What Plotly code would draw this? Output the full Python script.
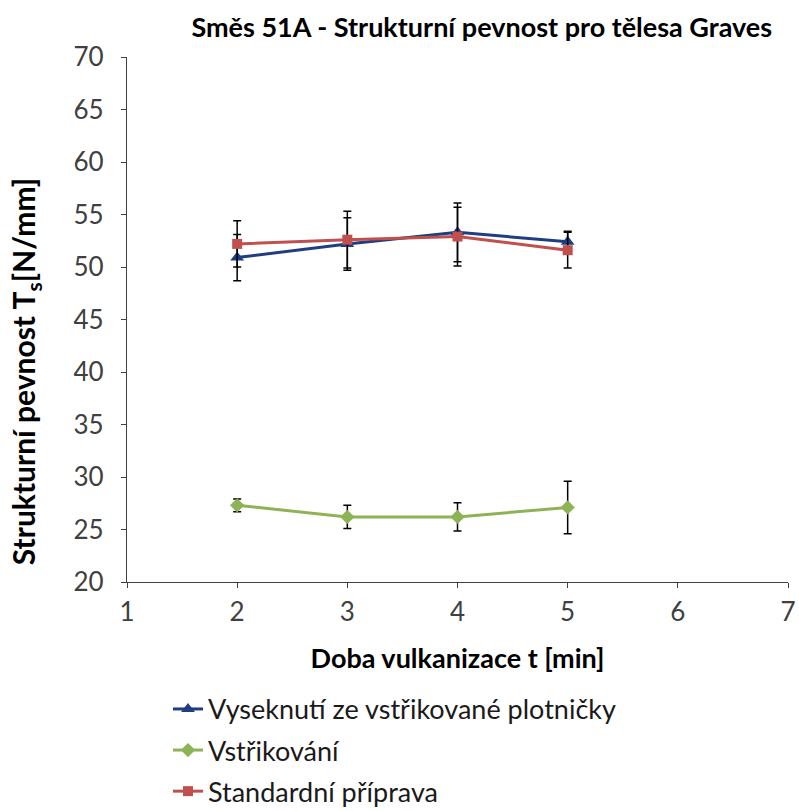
import plotly.graph_objects as go

# Vulcanisation time [min]
times = [2, 3, 4, 5]

# Structural strength Ts [N/mm] and standard deviations per preparation method
vyseknuti = [50.9, 52.2, 53.3, 52.4]
vyseknuti_err = [2.2, 2.5, 2.8, 1.0]

vstrikovani = [27.3, 26.2, 26.2, 27.1]
vstrikovani_err = [0.6, 1.1, 1.35, 2.5]

standardni = [52.2, 52.6, 52.9, 51.6]
standardni_err = [2.2, 2.7, 2.8, 1.7]

series = [
    ("Vyseknutí ze vstřikované plotničky", vyseknuti, vyseknuti_err, "#1f3d82", "triangle-up", 12),
    ("Vstřikování", vstrikovani, vstrikovani_err, "#8db356", "diamond", 11),
    ("Standardní příprava", standardni, standardni_err, "#c0504d", "square", 10),
]

FONT = "Lato, 'Open Sans', sans-serif"

fig = go.Figure()
for i, (name, vals, errs, color, symbol, size) in enumerate(series):
    fig.add_trace(go.Scatter(
        x=times, y=vals, name=name, mode="lines+markers",
        legendgroup=f"g{i}",
        line=dict(color=color, width=3),
        marker=dict(color=color, symbol=symbol, size=size),
        error_y=dict(type="data", array=errs, visible=True,
                     color="black", thickness=1.5, width=4),
    ))

fig.update_layout(
    width=799, height=811,
    margin=dict(l=127, r=11, t=57, b=229, autoexpand=False),
    paper_bgcolor="white", plot_bgcolor="white",
    font=dict(family=FONT, color="#1a1a1a"),
    title=dict(text="<b>Směs 51A - Strukturní pevnost pro tělesa Graves</b>",
               x=0.603, xanchor="center", y=0.966, yanchor="middle",
               font=dict(size=27, family=FONT, color="black")),
    showlegend=True,
    legend=dict(orientation="v", x=0.062, xanchor="left", y=-0.196, yanchor="top",
                font=dict(size=27, family=FONT, color="#1a1a1a"),
                tracegroupgap=3, itemwidth=30, bgcolor="rgba(0,0,0,0)"),
    annotations=[dict(
        text="<b>Strukturní pevnost T<sub>s</sub>[N/mm]</b>",
        xref="paper", yref="paper", x=-0.154, y=0.40,
        xanchor="center", yanchor="middle", textangle=-90, showarrow=False,
        font=dict(size=30, family=FONT, color="black"),
    )],
)

fig.update_xaxes(
    range=[1, 7], tickvals=[1, 2, 3, 4, 5, 6, 7],
    showline=True, linecolor="#404040", linewidth=1.2,
    ticks="outside", ticklen=5, tickcolor="#404040",
    showgrid=False, zeroline=False, automargin=False,
    ticklabelstandoff=2,
    tickfont=dict(size=26, family=FONT, color="#404040"),
    title=dict(text="<b>Doba vulkanizace t [min]</b>", standoff=22,
               font=dict(size=27, family=FONT, color="black")),
)
fig.update_yaxes(
    range=[20, 70], tickvals=list(range(20, 71, 5)),
    showline=True, linecolor="#404040", linewidth=1.2,
    ticks="outside", ticklen=5, tickcolor="#404040",
    showgrid=False, zeroline=False, automargin=False,
    ticklabelstandoff=12,
    tickfont=dict(size=26, family=FONT, color="#404040"),
)

fig.write_html("out.html")
